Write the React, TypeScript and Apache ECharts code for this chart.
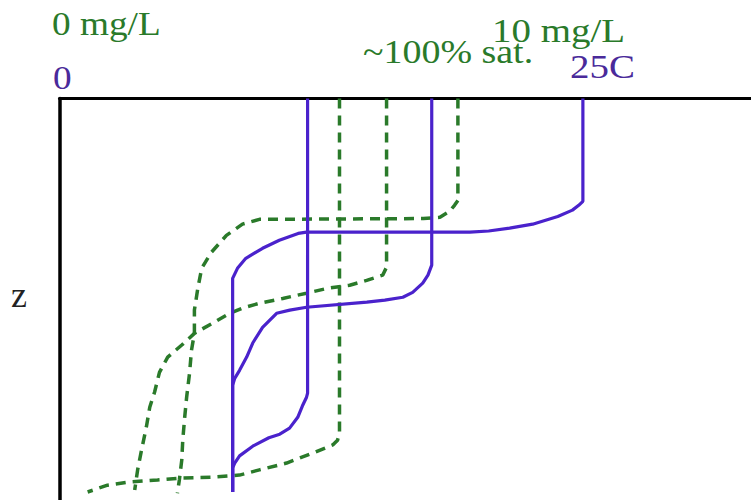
import React, { useEffect, useRef } from "react";
import * as echarts from "echarts";

// Axis ranges (depth: 0 at the top axis, increasing downward)
const depthRange = [0, 100];
const tempRange = [0, 33.03]; // degrees C
const oxyRange = [0, 14.25]; // mg/L

// Temperature profiles [T (C), depth]
const tempSummer: [number, number][] = [
  [25, 0], [25, 25.6], [24.8, 26.6], [24.5, 27.8], [23.8, 29.4], [22.6, 31.3], [21.5, 32.3],
  [20.5, 33.0], [19.6, 33.3], [11.8, 33.3], [11.4, 33.6], [10.5, 35.3], [9.7, 37.3],
  [8.9, 39.8], [8.5, 42.3], [8.27, 44.8], [8.27, 98],
];
const tempMid: [number, number][] = [
  [17.78, 0], [17.78, 41.5], [17.6, 44.0], [17.35, 46.0], [16.87, 48.3], [16.4, 49.5],
  [15.54, 50.2], [14.68, 50.7], [11.8, 52.0], [11.0, 52.7], [10.37, 53.5], [9.7, 57.0],
  [9.23, 60.9], [8.94, 64.4], [8.6, 67.7], [8.37, 69.7], [8.27, 71.4], [8.27, 98],
];
const tempCool: [number, number][] = [
  [11.85, 0], [11.85, 73.4], [11.8, 74.4], [11.6, 76.6], [11.38, 79.4], [10.99, 82.1],
  [10.52, 83.6], [10.0, 84.5], [9.23, 86.6], [8.6, 89.0], [8.37, 90.8], [8.27, 92.0], [8.27, 98],
];

// Dissolved oxygen profiles [O2 (mg/L), depth]
const oxySat: [number, number][] = [
  [8.21, 0], [8.21, 25.4], [8.14, 26.6], [8.04, 28.1], [7.84, 29.6], [7.5, 29.9],
  [4.12, 30.1], [3.77, 31.3], [3.44, 34.1], [3.13, 38.3], [2.93, 42.3], [2.85, 47.3],
  [2.78, 52.7], [2.78, 58.5], [2.72, 62.7], [2.68, 68.4], [2.62, 74.4], [2.58, 79.4],
  [2.54, 85.1], [2.52, 90.0], [2.47, 95.0], [2.43, 98.3],
];
const oxyMid: [number, number][] = [
  [6.74, 0], [6.74, 42.0], [6.66, 44.0], [6.33, 45.3], [5.98, 46.5], [5.51, 47.3],
  [5.09, 48.5], [4.6, 49.8], [4.12, 51.0], [3.77, 52.2], [3.51, 53.5], [3.15, 56.0],
  [2.78, 58.5], [2.52, 61.4], [2.23, 64.4], [2.06, 68.2], [1.96, 73.1], [1.86, 76.9],
  [1.79, 81.8], [1.69, 87.6], [1.61, 92.5], [1.55, 97.5],
];
const oxyLow: [number, number][] = [
  [5.77, 0], [5.77, 83.3], [5.73, 85.1], [5.63, 86.3], [5.22, 88.3], [4.68, 90.8],
  [4.12, 92.5], [3.71, 93.8], [3.15, 94.3], [2.54, 94.5], [2.02, 95.0], [1.44, 95.5],
  [0.99, 96.3], [0.58, 98.0],
];

// Texts
const oxyLabels = ["0 mg/L", "10 mg/L", "~100% sat."];
const tempLabels = ["0", "25C"];
const depthLabel = "z";

const PURPLE = "#4a22cc";
const GREEN = "#2a7a2a";
const TXT_PURPLE = "#4a2a9a";

export default function App() {
  const ref = useRef<HTMLDivElement>(null);
  useEffect(() => {
    document.body.style.margin = "0";
    const chart = echarts.init(ref.current!, null, { renderer: "svg" });
    const tempSeries = [tempSummer, tempMid, tempCool].map((d) => ({
      type: "line",
      xAxisIndex: 0,
      data: d,
      symbol: "none",
      lineStyle: { color: PURPLE, width: 3.2 },
      z: 3,
    }));
    const oxySeries = [oxySat, oxyMid, oxyLow].map((d) => ({
      type: "line",
      xAxisIndex: 1,
      data: d,
      symbol: "none",
      lineStyle: { color: GREEN, width: 3.5, type: [10, 7] },
      z: 2,
    }));
    const txt = (text: string, x: number, y: number, fill: string, size = 33, sx = 1.13) => ({
      type: "text",
      x,
      y,
      scaleX: sx,
      style: {
        text,
        fill,
        fontFamily: "Liberation Serif",
        fontSize: size,
        align: "left",
        verticalAlign: "middle",
      },
    });
    chart.setOption({
      animation: false,
      backgroundColor: "#fff",
      grid: { left: 59.5, top: 98.5, right: 0, bottom: 0 },
      xAxis: [
        {
          type: "value",
          position: "top",
          min: tempRange[0],
          max: tempRange[1],
          axisLine: { show: true, onZero: false, lineStyle: { color: "#000", width: 3 } },
          axisTick: { show: false },
          axisLabel: { show: false },
          splitLine: { show: false },
        },
        {
          type: "value",
          position: "top",
          min: oxyRange[0],
          max: oxyRange[1],
          show: false,
        },
      ],
      yAxis: {
        type: "value",
        inverse: true,
        min: depthRange[0],
        max: depthRange[1],
        axisLine: { show: true, onZero: false, lineStyle: { color: "#000", width: 3.5 } },
        axisTick: { show: false },
        axisLabel: { show: false },
        splitLine: { show: false },
      },
      series: [...oxySeries, ...tempSeries],
      graphic: [
        txt(oxyLabels[0], 52, 24, GREEN),
        txt(oxyLabels[1], 492, 31, GREEN, 33, 1.18),
        txt(oxyLabels[2], 363, 52, GREEN, 33, 1.15),
        txt(tempLabels[0], 53, 78, TXT_PURPLE),
        txt(tempLabels[1], 570, 67, TXT_PURPLE, 33, 1.18),
        txt(depthLabel, 11, 295, "#222", 36, 1.0),
      ],
    });
    return () => chart.dispose();
  }, []);
  return (
    <div
      ref={ref}
      style={{ width: 751, height: 500, position: "absolute", left: 0, top: 0 }}
    />
  );
}
